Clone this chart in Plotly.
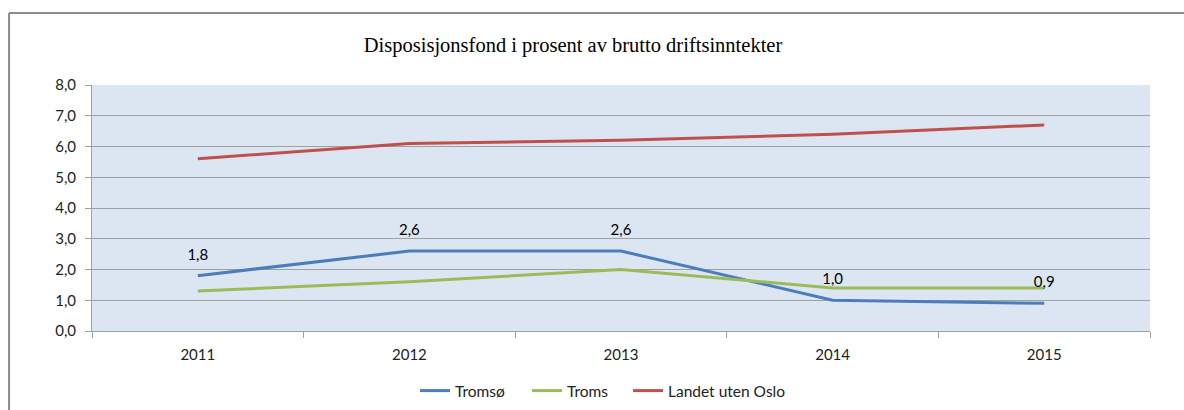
import plotly.graph_objects as go

years = ["2011", "2012", "2013", "2014", "2015"]
tromso = [1.8, 2.6, 2.6, 1.0, 0.9]
troms = [1.3, 1.6, 2.0, 1.4, 1.4]
landet = [5.6, 6.1, 6.2, 6.4, 6.7]
y_ticks = [0, 1, 2, 3, 4, 5, 6, 7, 8]

FONT = "Lato"
fig = go.Figure()
fig.add_trace(go.Scatter(x=years, y=tromso, name="Tromsø", mode="lines", legend="legend",
                         line=dict(color="#4a7ebb", width=3)))
fig.add_trace(go.Scatter(x=years, y=troms, name="Troms", mode="lines", legend="legend2",
                         line=dict(color="#9bbb59", width=3)))
fig.add_trace(go.Scatter(x=years, y=landet, name="Landet uten Oslo", mode="lines", legend="legend3",
                         line=dict(color="#c0504d", width=3)))
# data labels for Tromsø (invisible markers push the text above the point)
fig.add_trace(go.Scatter(x=years, y=tromso, mode="markers+text", showlegend=False,
                         marker=dict(size=18, color="rgba(0,0,0,0)"),
                         texttemplate="%{y:.1f}", textposition="top center",
                         textfont=dict(family=FONT, size=15, color="#000000"),
                         hoverinfo="skip"))

# outer chart border
fig.add_shape(type="line", xref="paper", yref="paper", x0=-0.0784, x1=-0.0784, y0=1.2927, y1=-0.33,
              line=dict(color="#8c8c8c", width=2))
fig.add_shape(type="line", xref="paper", yref="paper", x0=-0.0784, x1=1.04, y0=1.2927, y1=1.2927,
              line=dict(color="#8c8c8c", width=2))

def leg(px):
    return dict(orientation="h", x=(px - 92 - 5) / 1058, xanchor="left", y=-0.244,
                yanchor="middle", font=dict(family=FONT, size=15.5, color="#222"),
                bgcolor="rgba(0,0,0,0)")

fig.update_layout(
    width=1184, height=410,
    margin=dict(l=92, r=34, t=85, b=79, autoexpand=False),
    paper_bgcolor="white", plot_bgcolor="#dce6f2",
    separators=", ",
    font=dict(family=FONT, size=15, color="#222"),
    title=dict(text="Disposisjonsfond i prosent av brutto driftsinntekter",
               font=dict(family="Liberation Serif", size=20.5, color="#000"),
               x=573/1184, xanchor="center", y=1-45/410, yanchor="middle", yref="container"),
    showlegend=True,
    legend=leg(420), legend2=leg(532), legend3=leg(633),
    xaxis=dict(type="category", range=[-0.5, 4.5], tickson="boundaries", ticks="outside",
               ticklen=6, tickcolor="#a0a0a0", showgrid=False, showline=True,
               linecolor="#a0a0a0", linewidth=1, zeroline=False, fixedrange=True,
               ticklabelstandoff=10),
    yaxis=dict(range=[0, 8], tickvals=y_ticks, tickformat=".1f", ticks="outside", ticklen=6,
               tickcolor="#a0a0a0", showgrid=True, gridcolor="#a0a0a0", gridwidth=1,
               showline=True, linecolor="#a0a0a0", zeroline=False, fixedrange=True,
               ticklabelstandoff=6),
)
fig.write_html("out.html", config={"displayModeBar": False},
               post_script="document.body.style.margin='0';")
